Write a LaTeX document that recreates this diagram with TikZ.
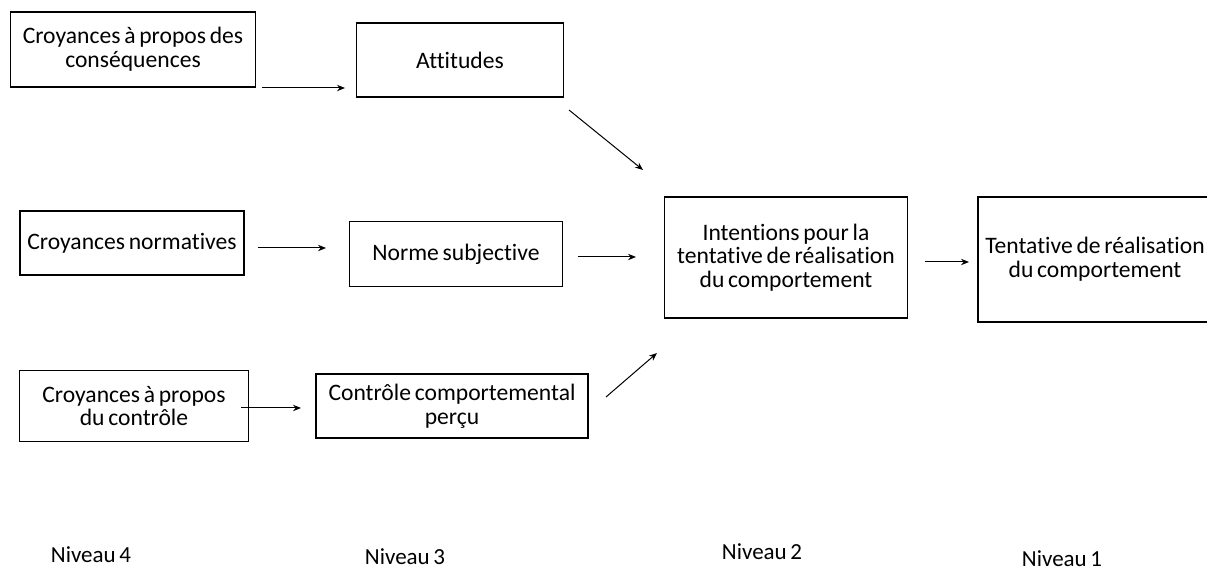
\documentclass[tikz,border=0pt]{standalone}
\usepackage{fontspec}
\setmainfont{Carlito}[Ligatures=NoCommon, WordSpace=0.7]
\usetikzlibrary{shapes.geometric, arrows.meta}
\tikzstyle{level} = [rectangle, draw=black, line width=0.6pt, text centered, align=center, inner sep=0pt, font=\fontsize{11.8}{11.8}\selectfont]
\tikzstyle{arrow} = [line width=0.5pt,-{Stealth[length=4pt,width=3.2pt]}]
\tikzstyle{niveau} = [font=\fontsize{11.5}{12}\selectfont]
\begin{document}
\begin{tikzpicture}[x=0.5pt,y=-0.5pt]
    \useasboundingbox (0,0) rectangle (1207,572);
    \node (conseq) [level, minimum width=122.5pt, minimum height=37.5pt] at (133,49.5) {Croyances à propos des\\conséquences};
    \node (attit) [level, minimum width=103.5pt, minimum height=37pt] at (460,60) {Attitudes};
    \node (normat) [level, minimum width=112pt, minimum height=32pt] at (132,243) {Croyances normatives};
    \node (norme) [level, minimum width=106.5pt, minimum height=32.5pt] at (456,254) {Norme subjective};
    \node (intent) [level, minimum width=121.5pt, minimum height=60.5pt] at (786,257.5) {Intentions pour la\\tentative de réalisation\\du comportement};
    \node (tentat) [level, minimum width=117pt, minimum height=62.5pt] at (1095,259.5) {Tentative de réalisation\\du comportement};
    \node (controle) [level, minimum width=114.5pt, minimum height=35.5pt] at (134,406) {Croyances à propos\\du contrôle};
    \node (percu) [level, minimum width=136pt, minimum height=32pt] at (452,406) {Contrôle comportemental\\perçu};
    % arrow ends
    \coordinate (c1a) at (262,88);
    \coordinate (c1b) at (345,88);
    \coordinate (c2a) at (569,110);
    \coordinate (c2b) at (643,170);
    \coordinate (c3a) at (258,248);
    \coordinate (c3b) at (326,248);
    \coordinate (c4a) at (578,257);
    \coordinate (c4b) at (636,257);
    \coordinate (c5a) at (925,262);
    \coordinate (c5b) at (969,262);
    \coordinate (c6a) at (241,408);
    \coordinate (c6b) at (301,408);
    \coordinate (c7a) at (606,397);
    \coordinate (c7b) at (657,353);
    \draw [arrow] (c1a) -- (c1b);
    \draw [arrow] (c2a) -- (c2b);
    \draw [arrow] (c3a) -- (c3b);
    \draw [arrow] (c4a) -- (c4b);
    \draw [arrow] (c5a) -- (c5b);
    \draw [arrow] (c6a) -- (c6b);
    \draw [arrow] (c7a) -- (c7b);
    % levels
    \node (niv4) [niveau] at (91,555) {Niveau 4};
    \node (niv3) [niveau] at (405,557) {Niveau 3};
    \node (niv2) [niveau] at (762,552) {Niveau 2};
    \node (niv1) [niveau] at (1062,559) {Niveau 1};
\end{tikzpicture}
\end{document}
